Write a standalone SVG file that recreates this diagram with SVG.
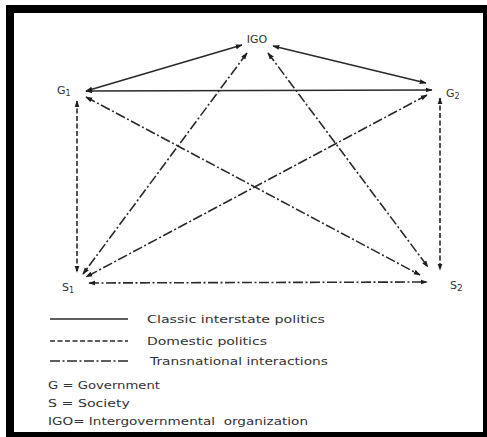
<svg xmlns="http://www.w3.org/2000/svg" width="487" height="437" viewBox="0 0 487 437">
<style>
  .lbl{font-family:"DejaVu Sans","Liberation Sans",sans-serif;font-size:11px;fill:#333}
  .leg{font-family:"DejaVu Sans","Liberation Sans",sans-serif;font-size:11px;fill:#333}
  .c{stroke:#2a2a2a;stroke-width:1.6;fill:none;marker-start:url(#ah);marker-end:url(#ah)}
  .solid{}
  .dash{stroke-dasharray:5 2.5}
  .dd{stroke-dasharray:10 2.5 2 2.5}
  .l{stroke:#2a2a2a;stroke-width:1.6;fill:none}
</style>
<defs>
  <marker id="ah" viewBox="0 0 10 10" refX="9" refY="5" markerWidth="7" markerHeight="7" orient="auto-start-reverse" markerUnits="userSpaceOnUse">
    <path d="M0,1.5 L10,5 L0,8.5 Z" fill="#1e1e1e"/>
  </marker>
</defs>
<rect x="6" y="5" width="481" height="432" fill="#000"/>
<rect x="14" y="13" width="469" height="419" fill="#fff"/>

<g id="connectors">
  <line class="c solid" x1="86" y1="91" x2="242" y2="45"/>
  <line class="c solid" x1="273" y1="46" x2="426" y2="83"/>
  <line class="c solid" x1="86" y1="91" x2="432" y2="90"/>
  <line class="c dash" x1="77" y1="101" x2="77" y2="272"/>
  <line class="c dash" x1="440" y1="98" x2="440" y2="270"/>
  <line class="c dd" x1="89" y1="283" x2="427" y2="282"/>
  <line class="c dd" x1="247" y1="53" x2="83" y2="274"/>
  <line class="c dd" x1="268" y1="53" x2="428" y2="267"/>
  <line class="c dd" x1="86" y1="97" x2="420" y2="275"/>
  <line class="c dd" x1="427" y1="95" x2="86" y2="277"/>
</g>

<g id="IGO"><text class="lbl" x="257" y="43" text-anchor="middle">IGO</text></g>
<g id="G1"><text class="lbl" x="57" y="94">G<tspan font-size="8" dy="2">1</tspan></text></g>
<g id="G2"><text class="lbl" x="446" y="97">G<tspan font-size="8" dy="2">2</tspan></text></g>
<g id="S1"><text class="lbl" x="62" y="291">S<tspan font-size="8" dy="2">1</tspan></text></g>
<g id="S2"><text class="lbl" x="450" y="289" font-size="12">S<tspan font-size="9" dy="2">2</tspan></text></g>

<g id="legend">
  <line class="l" x1="50" y1="319" x2="128" y2="319"/>
  <text class="leg" x="147" y="323" textLength="178" lengthAdjust="spacingAndGlyphs">Classic interstate politics</text>
  <line class="l" x1="50" y1="341" x2="128" y2="341" stroke-dasharray="5 2.5"/>
  <text class="leg" x="147" y="345" textLength="120" lengthAdjust="spacingAndGlyphs">Domestic politics</text>
  <line class="l" x1="50" y1="361" x2="130" y2="361" stroke-dasharray="10 2.5 2 2.5"/>
  <text class="leg" x="150" y="365" textLength="178" lengthAdjust="spacingAndGlyphs">Transnational interactions</text>
  <text class="leg" x="48" y="389" textLength="112" lengthAdjust="spacingAndGlyphs">G = Government</text>
  <text class="leg" x="48" y="407" textLength="82" lengthAdjust="spacingAndGlyphs">S = Society</text>
  <text class="leg" x="48" y="425" textLength="260" lengthAdjust="spacingAndGlyphs" xml:space="preserve">IGO= Intergovernmental  organization</text>
</g>
</svg>
